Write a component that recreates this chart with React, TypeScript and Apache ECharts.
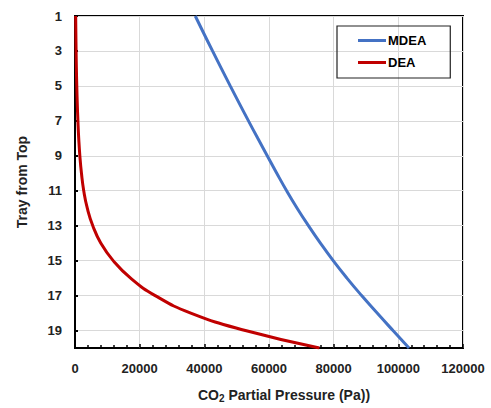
import React, { useEffect, useRef } from "react";
import * as echarts from "echarts";

const trays = ["1","2","3","4","5","6","7","8","9","10","11","12","13","14","15","16","17","18","19","20"];
const mdea = [37200, 39850, 42530, 45250, 48010, 50810, 53650, 56530, 59450, 62400, 65450, 68700, 72200, 75900, 79850, 84100, 88650, 93450, 98350, 103300];
const dea = [210, 270, 340, 430, 550, 700, 900, 1150, 1500, 2000, 2700, 3800, 5500, 8000, 11800, 17200, 24800, 35800, 52700, 75600];
const seriesNames = ["MDEA", "DEA"];
const xMin = 0;
const xMax = 120000;
const xStep = 20000;

const FONT = "'Liberation Sans', Arial, sans-serif";

export default function App() {
  const ref = useRef<HTMLDivElement>(null);
  useEffect(() => {
    if (!ref.current) return;
    const chart = echarts.init(ref.current, undefined, { renderer: "svg" });
    chart.setOption({
      animation: false,
      backgroundColor: "#fff",
      textStyle: { fontFamily: FONT },
      grid: {
        left: 75,
        right: 28,
        top: 16,
        bottom: 57,
        show: true,
        borderColor: "#000",
        borderWidth: 2,
      },
      legend: {
        orient: "vertical",
        left: 337,
        top: 26,
        padding: [8, 24, 9, 21],
        borderColor: "#222",
        borderWidth: 1.2,
        icon: "rect",
        itemWidth: 28,
        itemHeight: 3,
        itemGap: 9,
        align: "left",
        textStyle: { fontFamily: FONT, fontWeight: "bold", fontSize: 13, color: "#000", padding: [0, 0, 0, -3] },
        data: seriesNames,
      },
      xAxis: {
        type: "value",
        min: xMin,
        max: xMax,
        interval: xStep,
        name: "{a|CO}{b|2}{a| Partial Pressure (Pa))}",
        nameLocation: "middle",
        nameGap: 39,
        nameTextStyle: {
          padding: [0, 0, 0, 30],
          rich: {
            a: { fontFamily: FONT, fontWeight: "bold", fontSize: 14, color: "#222" },
            b: { fontFamily: FONT, fontWeight: "bold", fontSize: 10, color: "#222", verticalAlign: "bottom", padding: [6, 0, 0, 0] },
          },
        },
        axisLine: { lineStyle: { color: "#000", width: 2 } },
        axisTick: { show: true, inside: true, length: 4, lineStyle: { color: "#000", width: 1.5 } },
        minorTick: { show: true, splitNumber: 5, length: 3, lineStyle: { color: "#000", width: 1.5 } },
        splitLine: { show: true, lineStyle: { color: "#d9d9d9", width: 1 } },
        axisLabel: {
          fontFamily: FONT, fontWeight: "bold", fontSize: 13, color: "#222", margin: 14,
          formatter: (v: number) => String(v),
        },
      },
      yAxis: {
        type: "category",
        data: trays,
        inverse: true,
        boundaryGap: false,
        name: "Tray from Top",
        nameLocation: "middle",
        nameGap: 46,
        nameTextStyle: { fontFamily: FONT, fontWeight: "bold", fontSize: 14, color: "#222" },
        axisLine: { lineStyle: { color: "#000", width: 2 } },
        axisTick: { show: true, inside: true, interval: 1, length: 3, lineStyle: { color: "#000", width: 2 } },
        splitLine: { show: true, interval: 1, lineStyle: { color: "#d9d9d9", width: 1 } },
        axisLabel: { interval: 1, fontFamily: FONT, fontWeight: "bold", fontSize: 13, color: "#222", margin: 13 },
      },
      series: [
        {
          name: seriesNames[0],
          type: "line",
          smooth: true,
          symbol: "none",
          lineStyle: { color: "#4472C4", width: 3 },
          itemStyle: { color: "#4472C4" },
          data: mdea.map((v, i) => [v, trays[i]]),
        },
        {
          name: seriesNames[1],
          type: "line",
          smooth: true,
          symbol: "none",
          lineStyle: { color: "#C00000", width: 3 },
          itemStyle: { color: "#C00000" },
          data: dea.map((v, i) => [v, trays[i]]),
        },
      ],
    });
    return () => chart.dispose();
  }, []);
  return <div ref={ref} style={{ position: "fixed", left: 0, top: 0, width: 491, height: 408 }} />;
}
